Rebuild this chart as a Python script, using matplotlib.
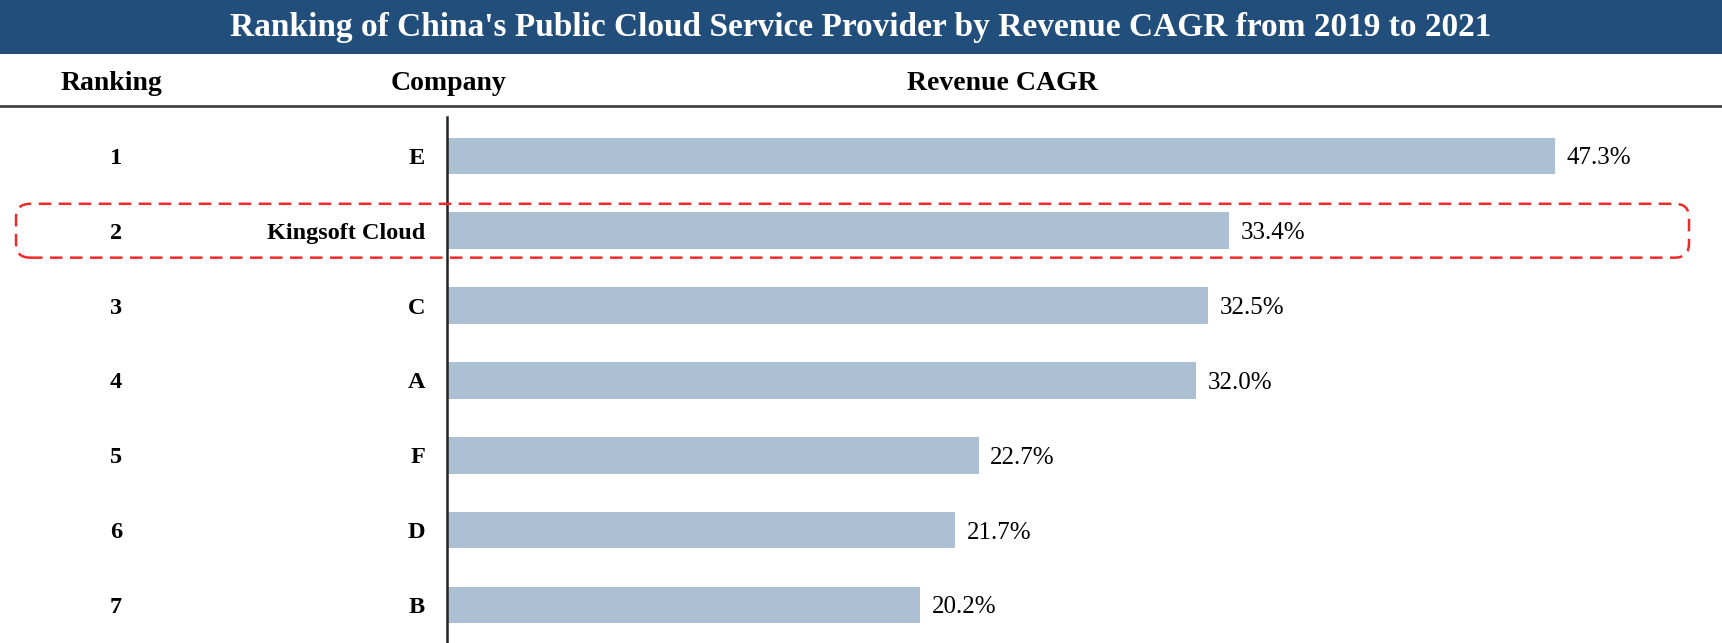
import matplotlib.pyplot as plt
from matplotlib.patches import FancyBboxPatch, Rectangle
from matplotlib.lines import Line2D
import matplotlib.transforms as mtransforms

# chart data
title = "Ranking of China's Public Cloud Service Provider by Revenue CAGR from 2019 to 2021"
rankings = ['1', '2', '3', '4', '5', '6', '7']
companies = ['E', 'Kingsoft Cloud', 'C', 'A', 'F', 'D', 'B']
cagr = [47.3, 33.4, 32.5, 32.0, 22.7, 21.7, 20.2]
highlight = 'Kingsoft Cloud'

W, H = 1722, 643
bar_color = '#adbfd2'
band_color = '#224e7c'

plt.rcParams['font.family'] = ['Liberation Serif', 'DejaVu Serif']

fig = plt.figure(figsize=(W / 100, H / 100), dpi=100)

# title band
fig.patches.append(Rectangle((0, 1 - 54 / H), 1, 54 / H, transform=fig.transFigure,
                             facecolor=band_color, edgecolor='none', zorder=0))
fig.text(0.5, 1 - 24 / H, title, ha='center', va='center_baseline', color='white',
         fontsize=24, fontweight='bold')

# column headers
hy = 1 - 80 / H
fig.text(111 / W, hy, 'Ranking', ha='center', va='center_baseline', fontsize=20, fontweight='bold')
fig.text(448 / W, hy, 'Company', ha='center', va='center_baseline', fontsize=20, fontweight='bold')
fig.text(1002 / W, hy, 'Revenue CAGR', ha='center', va='center_baseline', fontsize=20, fontweight='bold')
fig.add_artist(Line2D([0, 1], [1 - 106 / H, 1 - 106 / H], transform=fig.transFigure,
                      color='#444444', linewidth=2))

# bar area
ax = fig.add_axes([447 / W, 0, (W - 447) / W, (H - 117) / H])
pos = list(range(len(companies)))
ax.barh(pos, cagr, height=0.49, color=bar_color)
ax.set_xlim(0, (W - 447) / 23.42)
ax.set_ylim(6.51, -0.52)
for s in ['top', 'right', 'bottom']:
    ax.spines[s].set_visible(False)
ax.spines['left'].set_linewidth(1.8)
ax.spines['left'].set_color('#222222')
ax.set_xticks([])
ax.set_yticks([])

for p, v in zip(pos, cagr):
    ax.text(v + 0.5, p, f'{v:.1f}%', va='center_baseline', ha='left', fontsize=18)

# ranking / company labels
trans = mtransforms.blended_transform_factory(fig.transFigure, ax.transData)
for p, r, c in zip(pos, rankings, companies):
    ax.text(116 / W, p, r, transform=trans, ha='center', va='center_baseline',
            fontsize=17.5, fontweight='bold')
    ax.text(425 / W, p, c, transform=trans, ha='right', va='center_baseline',
            fontsize=17.5, fontweight='bold')

# dashed highlight box
hi = companies.index(highlight)
_, y_top = fig.transFigure.inverted().transform(ax.transData.transform((0, hi - 0.36)))
_, y_bot = fig.transFigure.inverted().transform(ax.transData.transform((0, hi + 0.36)))
box = FancyBboxPatch((16 / W, y_bot), (1689 - 16) / W, y_top - y_bot,
                     boxstyle='round,pad=0,rounding_size=%f' % (14 / W),
                     mutation_aspect=W / H, transform=fig.transFigure,
                     facecolor='none', edgecolor='#ee2a2a', linewidth=1.8,
                     linestyle=(0, (5, 3)), zorder=5)
fig.patches.append(box)

fig.savefig('out.png', dpi=100)
